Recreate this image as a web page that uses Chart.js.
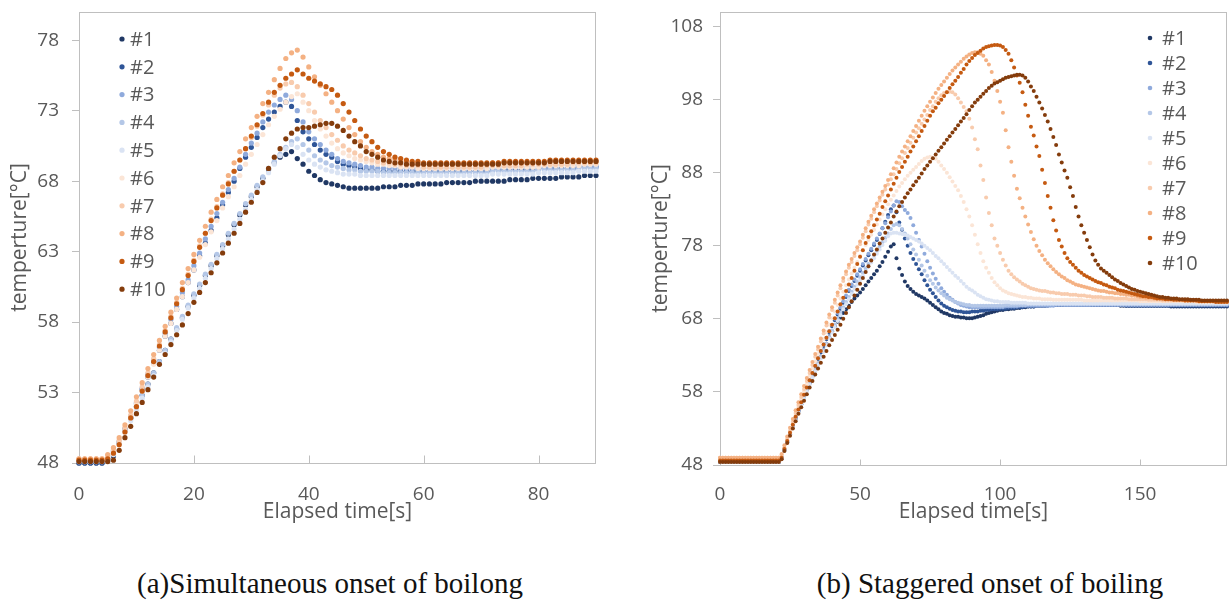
<!DOCTYPE html>
<html><head><meta charset="utf-8">
<script src="https://cdn.jsdelivr.net/npm/chart.js@4.4.0/dist/chart.umd.min.js"></script>
<style>
html,body{margin:0;padding:0;background:#fff;width:1229px;height:606px;overflow:hidden;position:relative}
.box{position:absolute}
.cap{position:absolute;font-family:"Liberation Serif",serif;font-size:29px;line-height:29px;color:#111;white-space:nowrap;transform:translateX(-50%)}
</style></head><body>
<div class="box" style="left:0;top:0;width:610px;height:540px"><canvas id="cA" width="610" height="540"></canvas></div>
<div class="box" style="left:620px;top:0;width:609px;height:540px"><canvas id="cB" width="609" height="540"></canvas></div>
<div class="cap" style="left:330px;top:569px">(a)Simultaneous onset of boilong</div>
<div class="cap" style="left:990px;top:569px">(b) Staggered onset of boiling</div>
<script>
// ---------- shared ----------
const seriesLabels = ['#1','#2','#3','#4','#5','#6','#7','#8','#9','#10'];
const seriesColors = ['#203864','#2F5597','#8FAADC','#B4C7E7','#DAE3F3','#FBE5D6','#F8CBAD','#F4B183','#C55A11','#843C0C'];

// ---------- (a) simultaneous onset: sampled every 1 s, 0..90 s ----------
const stepA = 1;
const xTicksA = [0,20,40,60,80];
const yTicksA = [48,53,58,63,68,73,78];
const a1 = [48.0,48.0,48.0,48.0,48.0,48.2,48.5,49.5,50.4,51.2,
52.0,52.8,53.6,54.4,55.2,56.0,56.8,57.5,58.3,59.1,
59.9,60.6,61.3,62.0,62.7,63.4,64.2,64.9,65.6,66.3,
66.9,67.6,68.2,68.8,69.3,69.7,69.9,70.1,69.6,69.2,
68.7,68.4,68.1,67.9,67.8,67.7,67.6,67.5,67.5,67.5,
67.5,67.5,67.5,67.6,67.6,67.6,67.7,67.7,67.7,67.8,
67.8,67.8,67.8,67.8,67.9,67.9,67.9,67.9,67.9,68.0,
68.0,68.0,68.0,68.0,68.0,68.1,68.1,68.1,68.1,68.2,
68.2,68.2,68.2,68.2,68.3,68.3,68.3,68.3,68.4,68.4,
68.4];
const a2 = [48.0,48.0,48.0,48.0,48.0,48.3,48.8,49.4,50.3,51.2,
52.2,53.2,54.1,55.1,56.0,57.0,57.9,58.9,59.8,60.8,
61.7,62.7,63.6,64.5,65.4,66.3,67.2,68.0,68.9,69.7,
70.4,71.1,71.8,72.4,72.9,73.3,73.6,73.3,72.3,71.5,
71.0,70.6,70.2,69.9,69.7,69.4,69.2,69.1,69.0,68.9,
68.8,68.8,68.7,68.7,68.7,68.7,68.7,68.7,68.7,68.7,
68.7,68.7,68.7,68.7,68.7,68.7,68.7,68.7,68.7,68.7,
68.7,68.7,68.8,68.8,68.8,68.8,68.8,68.8,68.8,68.8,
68.9,68.9,68.9,68.9,68.9,68.9,68.9,69.0,69.0,69.0,
69.0];
const a3 = [48.1,48.1,48.1,48.1,48.1,48.3,48.9,49.5,50.4,51.3,
52.3,53.3,54.3,55.3,56.2,57.2,58.2,59.1,60.1,61.0,
62.0,62.9,63.9,64.8,65.7,66.5,67.4,68.2,69.0,69.9,
70.7,71.4,72.2,72.9,73.4,73.8,74.1,73.8,73.0,72.2,
71.5,71.0,70.6,70.2,69.9,69.6,69.4,69.3,69.2,69.1,
69.0,69.0,68.9,68.9,68.9,68.9,68.9,68.9,68.9,68.9,
68.9,68.9,68.9,68.9,68.9,68.9,68.9,68.9,68.9,68.9,
68.9,68.9,68.9,68.9,69.0,69.0,69.0,69.0,69.0,69.0,
69.0,69.0,69.0,69.1,69.1,69.1,69.1,69.1,69.1,69.1,
69.1];
const a4 = [48.1,48.1,48.1,48.1,48.1,48.2,48.6,49.5,50.4,51.2,
52.0,52.8,53.6,54.4,55.2,56.0,56.8,57.6,58.4,59.2,
60.0,60.7,61.4,62.1,62.8,63.5,64.3,65.0,65.7,66.4,
67.0,67.7,68.3,68.9,69.4,69.9,70.4,70.8,71.0,70.6,
70.2,69.8,69.5,69.3,69.1,69.0,68.9,68.8,68.8,68.7,
68.7,68.7,68.7,68.6,68.6,68.6,68.6,68.6,68.6,68.6,
68.6,68.6,68.6,68.6,68.6,68.6,68.6,68.6,68.6,68.6,
68.6,68.6,68.7,68.7,68.7,68.7,68.7,68.7,68.7,68.7,
68.8,68.8,68.8,68.8,68.8,68.8,68.8,68.9,68.9,68.9,
68.9];
const a5 = [48.1,48.1,48.1,48.1,48.1,48.2,48.6,49.4,50.2,51.0,
51.8,52.6,53.4,54.2,55.0,55.8,56.6,57.4,58.2,59.0,
59.7,60.4,61.1,61.8,62.5,63.2,63.9,64.6,65.3,66.0,
66.7,67.4,68.0,68.6,69.2,69.8,70.3,70.6,70.4,69.9,
69.5,69.2,69.0,68.8,68.7,68.6,68.5,68.5,68.5,68.4,
68.4,68.4,68.4,68.4,68.4,68.4,68.4,68.4,68.4,68.4,
68.4,68.4,68.4,68.4,68.4,68.4,68.4,68.4,68.4,68.4,
68.4,68.4,68.5,68.5,68.5,68.5,68.5,68.5,68.5,68.5,
68.6,68.6,68.6,68.6,68.6,68.6,68.6,68.7,68.7,68.7,
68.7];
const a6 = [48.3,48.3,48.3,48.3,48.3,48.4,48.9,49.5,50.3,51.2,
52.2,53.1,54.1,55.0,56.0,57.0,57.9,58.9,59.8,60.8,
61.7,62.6,63.5,64.4,65.2,66.1,66.9,67.6,68.4,69.2,
69.9,70.6,71.3,72.0,72.6,73.1,73.6,74.0,74.2,73.6,
73.0,72.3,71.7,71.2,70.7,70.3,70.0,69.8,69.6,69.5,
69.4,69.3,69.2,69.2,69.1,69.1,69.0,69.0,69.0,68.9,
68.9,68.9,68.9,68.9,68.9,68.9,68.9,68.9,68.9,68.9,
68.9,68.9,69.0,69.0,69.0,69.0,69.0,69.0,69.0,69.0,
69.0,69.1,69.1,69.1,69.1,69.1,69.1,69.1,69.2,69.2,
69.2];
const a7 = [48.3,48.3,48.3,48.3,48.3,48.5,49.0,49.6,50.5,51.4,
52.4,53.4,54.4,55.4,56.4,57.4,58.4,59.4,60.4,61.4,
62.4,63.4,64.3,65.3,66.2,67.1,67.9,68.7,69.5,70.3,
71.1,71.9,72.7,73.4,74.1,74.6,74.9,75.0,74.7,74.1,
73.5,72.9,72.3,71.8,71.3,70.9,70.5,70.2,70.0,69.8,
69.6,69.5,69.4,69.3,69.3,69.2,69.2,69.1,69.1,69.1,
69.0,69.0,69.0,69.0,69.0,69.0,69.0,69.0,69.0,69.0,
69.0,69.1,69.1,69.1,69.1,69.1,69.1,69.1,69.2,69.2,
69.2,69.2,69.2,69.2,69.2,69.2,69.3,69.3,69.3,69.3,
69.3];
const a8 = [48.3,48.3,48.3,48.3,48.3,48.6,49.1,49.8,50.7,51.7,
52.7,53.7,54.7,55.7,56.7,57.7,58.7,59.7,60.8,61.8,
62.8,63.8,64.8,65.8,66.7,67.6,68.4,69.3,70.1,71.0,
71.8,72.6,73.5,74.3,75.2,76.0,76.7,77.1,77.3,76.8,
76.1,75.4,74.8,74.2,73.6,73.0,72.4,71.8,71.3,70.8,
70.4,70.1,69.9,69.7,69.6,69.5,69.4,69.4,69.3,69.3,
69.2,69.2,69.2,69.2,69.2,69.2,69.2,69.2,69.2,69.2,
69.2,69.2,69.3,69.3,69.3,69.3,69.3,69.3,69.3,69.3,
69.3,69.3,69.4,69.4,69.4,69.4,69.4,69.4,69.4,69.4,
69.4];
const a9 = [48.2,48.2,48.2,48.2,48.2,48.3,48.7,49.3,50.2,51.2,
52.0,53.1,54.2,55.2,56.3,57.3,58.3,59.3,60.3,61.3,
62.3,63.3,64.3,65.2,66.1,67.0,67.8,68.7,69.5,70.3,
71.2,72.0,72.8,73.6,74.3,74.8,75.3,75.6,75.9,75.6,
75.3,75.1,74.9,74.7,74.5,74.1,73.5,72.9,72.3,71.7,
71.2,70.8,70.4,70.1,69.9,69.7,69.6,69.5,69.4,69.4,
69.3,69.3,69.3,69.3,69.3,69.3,69.3,69.3,69.3,69.3,
69.3,69.3,69.3,69.3,69.4,69.4,69.4,69.4,69.4,69.4,
69.4,69.4,69.5,69.5,69.5,69.5,69.5,69.5,69.5,69.5,
69.5];
const a10 = [48.1,48.1,48.1,48.1,48.1,48.1,48.2,48.9,49.8,50.6,
51.5,52.3,53.2,54.1,55.0,55.7,56.4,57.1,57.8,58.6,
59.4,60.1,60.8,61.5,62.2,62.9,63.6,64.3,65.0,65.8,
66.5,67.2,67.9,68.9,69.7,70.3,71.0,71.4,71.7,71.8,
71.8,71.9,72.0,72.1,72.1,71.9,71.6,71.2,70.8,70.5,
70.1,69.9,69.7,69.5,69.4,69.3,69.3,69.2,69.2,69.2,
69.2,69.2,69.2,69.2,69.2,69.2,69.2,69.2,69.2,69.2,
69.2,69.2,69.2,69.2,69.3,69.3,69.3,69.3,69.3,69.3,
69.3,69.3,69.4,69.4,69.4,69.4,69.4,69.4,69.4,69.4,
69.4];

// ---------- (b) staggered onset: sampled every 1 s, 0..181 s ----------
const stepB = 1;
const xTicksB = [0,50,100,150];
const yTicksB = [48,58,68,78,88,98,108];
const b1 = [48.4,48.4,48.4,48.4,48.4,48.4,48.4,48.4,48.4,48.4,
48.4,48.4,48.4,48.4,48.4,48.4,48.4,48.4,48.4,48.4,
48.4,48.4,48.9,50.0,51.1,52.2,53.2,54.3,55.3,56.3,
57.3,58.3,59.2,60.1,61.0,61.9,62.8,63.7,64.6,65.5,
66.3,67.0,67.6,68.2,68.8,69.3,69.8,70.3,70.8,71.2,
71.6,72.1,72.6,73.1,73.6,74.1,74.6,75.2,75.8,76.5,
77.2,77.9,78.2,76.3,74.9,74.0,73.1,72.5,72.1,71.7,
71.4,71.2,71.0,70.8,70.5,70.2,69.9,69.6,69.3,69.0,
68.8,68.7,68.5,68.4,68.3,68.3,68.2,68.2,68.1,68.1,
68.1,68.2,68.3,68.4,68.5,68.7,68.8,68.9,69.0,69.1,
69.2,69.2,69.3,69.3,69.4,69.4,69.5,69.5,69.6,69.6,
69.7,69.7,69.7,69.8,69.8,69.8,69.8,69.9,69.9,69.9,
69.9,69.9,69.9,70.0,70.0,70.0,70.0,70.0,70.0,70.0,
70.0,70.0,70.0,69.9,69.9,69.9,69.9,69.9,69.9,69.9,
69.9,69.9,69.9,69.8,69.8,69.8,69.8,69.8,69.8,69.8,
69.8,69.8,69.8,69.8,69.8,69.8,69.8,69.8,69.8,69.8,
69.8,69.7,69.7,69.7,69.7,69.7,69.7,69.7,69.7,69.7,
69.7,69.7,69.7,69.7,69.7,69.7,69.7,69.7,69.7,69.7,
69.7,69.7];
const b2 = [48.4,48.4,48.4,48.4,48.4,48.4,48.4,48.4,48.4,48.4,
48.4,48.4,48.4,48.4,48.4,48.4,48.4,48.4,48.4,48.4,
48.4,48.4,49.1,50.2,51.3,52.4,53.5,54.5,55.5,56.5,
57.5,58.5,59.5,60.5,61.5,62.5,63.4,64.3,65.2,66.1,
67.0,67.8,68.6,69.4,70.2,71.0,71.8,72.5,73.2,73.9,
74.6,75.3,76.0,76.7,77.4,78.1,78.8,79.6,80.4,81.3,
82.2,83.0,83.5,82.6,81.2,80.2,79.0,78.0,77.0,76.2,
75.5,74.8,74.1,73.3,72.6,72.0,71.5,71.0,70.5,70.1,
69.8,69.6,69.4,69.2,69.1,69.0,69.0,68.9,68.9,68.9,
69.0,69.0,69.0,69.1,69.1,69.2,69.2,69.3,69.3,69.3,
69.4,69.4,69.4,69.5,69.5,69.5,69.6,69.6,69.6,69.7,
69.7,69.7,69.7,69.8,69.8,69.8,69.8,69.8,69.9,69.9,
69.9,69.9,69.9,69.9,69.9,69.9,69.9,69.9,69.9,69.9,
69.9,69.9,69.9,69.9,69.9,69.9,69.9,69.9,69.9,69.9,
69.9,69.9,69.9,69.9,69.9,69.8,69.8,69.8,69.8,69.8,
69.8,69.8,69.8,69.8,69.8,69.8,69.8,69.8,69.8,69.8,
69.8,69.8,69.8,69.8,69.8,69.8,69.8,69.8,69.8,69.8,
69.8,69.8,69.8,69.8,69.8,69.8,69.8,69.8,69.8,69.8,
69.8,69.8];
const b3 = [48.4,48.4,48.4,48.4,48.4,48.4,48.4,48.4,48.4,48.4,
48.4,48.4,48.4,48.4,48.4,48.4,48.4,48.4,48.4,48.4,
48.4,48.4,49.1,50.2,51.3,52.4,53.5,54.5,55.5,56.5,
57.6,58.6,59.6,60.6,61.6,62.6,63.6,64.5,65.4,66.3,
67.2,68.0,68.8,69.6,70.4,71.2,72.0,72.7,73.4,74.1,
74.8,75.5,76.2,76.9,77.6,78.3,79.0,79.7,80.4,81.1,
81.9,82.7,83.5,84.1,84.0,83.4,82.9,82.5,81.8,80.8,
79.8,78.8,77.9,76.9,75.9,75.0,74.2,73.5,72.8,72.2,
71.7,71.3,70.9,70.6,70.3,70.1,69.9,69.8,69.7,69.6,
69.6,69.6,69.6,69.6,69.6,69.6,69.6,69.6,69.6,69.6,
69.6,69.6,69.7,69.7,69.7,69.7,69.7,69.8,69.8,69.8,
69.8,69.8,69.8,69.8,69.8,69.8,69.8,69.8,69.8,69.8,
69.9,69.9,69.9,69.9,69.9,69.9,69.9,69.9,69.9,69.9,
69.9,69.9,69.9,69.9,69.9,69.9,69.9,69.9,69.9,69.9,
69.9,69.9,69.9,69.9,69.9,69.9,69.9,69.9,69.9,69.9,
69.9,69.9,69.9,69.9,69.9,69.9,69.9,69.9,69.9,69.9,
69.9,69.9,69.9,69.9,69.9,69.9,69.9,69.9,69.9,69.9,
69.9,69.9,69.9,69.9,69.9,69.9,69.9,69.9,69.9,69.9,
69.9,69.9];
const b4 = [48.4,48.4,48.4,48.4,48.4,48.4,48.4,48.4,48.4,48.4,
48.4,48.4,48.4,48.4,48.4,48.4,48.4,48.4,48.4,48.4,
48.4,48.4,49.0,50.1,51.2,52.3,53.3,54.3,55.3,56.3,
57.3,58.3,59.2,60.1,61.0,61.9,62.8,63.7,64.6,65.5,
66.4,67.2,68.0,68.8,69.6,70.3,71.0,71.7,72.4,73.1,
73.7,74.3,74.9,75.5,76.1,76.7,77.3,77.9,78.5,79.1,
79.7,80.3,80.8,81.0,80.8,80.3,79.7,79.0,78.2,77.5,
76.8,76.1,75.3,74.6,73.9,73.3,72.8,72.3,71.9,71.5,
71.2,70.9,70.7,70.5,70.3,70.2,70.1,70.0,69.9,69.9,
69.8,69.8,69.8,69.8,69.8,69.8,69.8,69.8,69.8,69.8,
69.8,69.8,69.9,69.9,69.9,69.9,69.9,69.9,69.9,69.9,
70.0,70.0,70.0,70.0,70.0,70.0,70.0,70.0,70.0,70.0,
70.0,70.0,70.0,70.0,70.0,70.0,70.0,70.0,70.0,70.0,
70.0,70.0,70.0,70.0,70.0,70.0,70.0,70.0,70.0,70.0,
70.0,70.0,70.0,70.0,70.0,70.0,70.0,70.0,70.0,70.0,
70.0,70.0,70.0,70.0,70.0,70.0,70.0,70.0,70.0,70.0,
70.0,70.0,70.0,70.0,70.0,70.0,70.0,70.0,70.0,70.0,
70.0,70.0,70.0,70.0,70.0,70.0,70.0,70.0,70.0,70.0,
70.0,70.0];
const b5 = [48.4,48.4,48.4,48.4,48.4,48.4,48.4,48.4,48.4,48.4,
48.4,48.4,48.4,48.4,48.4,48.4,48.4,48.4,48.4,48.4,
48.4,48.4,49.0,50.0,51.1,52.1,53.1,54.1,55.1,56.1,
57.1,58.1,59.0,59.9,60.8,61.7,62.6,63.5,64.4,65.3,
66.1,66.9,67.7,68.5,69.3,70.0,70.7,71.4,72.1,72.7,
73.3,73.9,74.5,75.1,75.7,76.3,76.9,77.5,78.1,78.7,
79.3,79.7,79.8,79.8,79.7,79.6,79.5,79.4,79.2,79.0,
78.8,78.6,78.3,78.0,77.7,77.4,77.0,76.6,76.3,75.9,
75.5,75.1,74.7,74.3,73.9,73.6,73.2,72.8,72.4,72.1,
71.9,71.6,71.3,71.1,70.9,70.7,70.6,70.5,70.4,70.4,
70.3,70.3,70.3,70.3,70.2,70.2,70.2,70.2,70.2,70.2,
70.1,70.1,70.1,70.1,70.1,70.1,70.1,70.1,70.1,70.1,
70.1,70.1,70.1,70.1,70.1,70.1,70.1,70.1,70.1,70.1,
70.1,70.1,70.1,70.1,70.1,70.1,70.1,70.1,70.1,70.1,
70.1,70.1,70.1,70.1,70.1,70.1,70.1,70.1,70.1,70.1,
70.1,70.1,70.1,70.1,70.1,70.1,70.1,70.1,70.1,70.1,
70.1,70.1,70.1,70.1,70.1,70.1,70.1,70.1,70.1,70.1,
70.1,70.1,70.1,70.1,70.1,70.1,70.1,70.1,70.1,70.1,
70.1,70.1];
const b6 = [49.0,49.0,49.0,49.0,49.0,49.0,49.0,49.0,49.0,49.0,
49.0,49.0,49.0,49.0,49.0,49.0,49.0,49.0,49.0,49.0,
49.0,49.0,49.3,50.3,51.4,52.5,53.7,54.8,55.9,57.0,
58.1,59.1,60.2,61.2,62.2,63.2,64.2,65.2,66.2,67.2,
68.1,69.0,69.9,70.8,71.7,72.6,73.4,74.2,75.0,75.8,
76.6,77.4,78.1,78.8,79.5,80.2,80.9,81.6,82.3,83.0,
83.7,84.3,84.9,85.5,86.1,86.6,87.1,87.6,88.0,88.4,
88.8,89.2,89.6,89.9,90.1,90.2,90.1,89.9,89.5,89.0,
88.5,88.0,87.4,86.8,86.2,85.6,84.8,84.0,83.0,82.0,
80.8,79.5,78.2,77.0,75.9,75.0,74.3,73.6,73.0,72.6,
72.2,71.9,71.7,71.5,71.4,71.3,71.2,71.1,71.0,71.0,
70.9,70.9,70.8,70.8,70.8,70.7,70.7,70.7,70.7,70.6,
70.6,70.6,70.6,70.6,70.6,70.6,70.6,70.6,70.6,70.6,
70.5,70.5,70.5,70.5,70.5,70.5,70.5,70.5,70.5,70.5,
70.5,70.5,70.5,70.5,70.5,70.5,70.5,70.5,70.5,70.5,
70.4,70.4,70.4,70.4,70.4,70.4,70.4,70.4,70.4,70.4,
70.4,70.4,70.4,70.4,70.4,70.4,70.4,70.4,70.4,70.4,
70.3,70.3,70.3,70.3,70.3,70.3,70.3,70.3,70.3,70.3,
70.3,70.3];
const b7 = [49.0,49.0,49.0,49.0,49.0,49.0,49.0,49.0,49.0,49.0,
49.0,49.0,49.0,49.0,49.0,49.0,49.0,49.0,49.0,49.0,
49.0,49.0,49.4,50.4,51.6,52.7,53.9,55.1,56.2,57.3,
58.4,59.5,60.6,61.7,62.8,63.8,64.9,66.0,67.1,68.2,
69.2,70.2,71.2,72.2,73.2,74.1,75.0,75.8,76.6,77.4,
78.2,79.1,80.0,80.9,81.7,82.6,83.4,84.2,85.0,85.7,
86.4,87.1,87.8,88.5,89.3,90.0,90.7,91.4,92.1,92.8,
93.5,94.1,94.7,95.3,95.9,96.6,97.1,97.7,98.2,98.6,
98.9,99.1,99.1,99.0,98.7,98.2,97.6,97.0,96.4,95.4,
94.2,92.6,91.2,89.0,87.0,84.6,82.5,80.8,79.0,78.0,
77.0,76.1,75.3,74.6,74.1,73.7,73.4,73.1,72.8,72.6,
72.4,72.2,72.1,72.0,71.9,71.8,71.8,71.7,71.6,71.6,
71.5,71.5,71.4,71.4,71.4,71.3,71.3,71.3,71.2,71.2,
71.2,71.1,71.1,71.0,71.0,71.0,71.0,70.9,70.9,70.9,
70.9,70.8,70.8,70.8,70.8,70.8,70.7,70.7,70.7,70.7,
70.7,70.7,70.7,70.6,70.6,70.6,70.6,70.6,70.5,70.5,
70.5,70.5,70.5,70.5,70.5,70.5,70.5,70.5,70.5,70.5,
70.4,70.4,70.4,70.4,70.4,70.4,70.4,70.4,70.4,70.4,
70.4,70.4];
const b8 = [49.0,49.0,49.0,49.0,49.0,49.0,49.0,49.0,49.0,49.0,
49.0,49.0,49.0,49.0,49.0,49.0,49.0,49.0,49.0,49.0,
49.0,49.0,49.5,50.7,51.9,53.1,54.3,55.5,56.6,57.7,
58.8,59.9,61.0,62.1,63.2,64.2,65.3,66.4,67.5,68.6,
69.6,70.6,71.6,72.6,73.6,74.5,75.4,76.2,77.0,77.8,
78.6,79.5,80.4,81.3,82.1,83.0,83.8,84.6,85.4,86.2,
87.0,87.8,88.6,89.4,90.2,90.9,91.6,92.3,93.0,93.7,
94.4,95.1,95.8,96.5,97.1,97.7,98.3,98.9,99.5,100.0,
100.5,101.0,101.5,102.0,102.4,102.8,103.2,103.6,103.9,104.2,
104.4,104.5,104.5,104.3,104.0,103.4,102.8,101.8,100.6,99.2,
97.7,96.2,93.8,91.5,89.5,87.6,85.8,84.5,83.2,82.0,
80.9,79.9,78.9,78.0,77.3,76.7,76.1,75.6,75.2,74.8,
74.4,74.1,73.8,73.6,73.3,73.1,72.9,72.7,72.6,72.5,
72.4,72.3,72.2,72.1,72.0,71.9,71.8,71.8,71.7,71.6,
71.6,71.5,71.5,71.4,71.4,71.3,71.3,71.2,71.2,71.1,
71.0,71.0,70.9,70.9,70.9,70.8,70.8,70.8,70.7,70.7,
70.7,70.7,70.6,70.6,70.6,70.6,70.5,70.5,70.5,70.5,
70.5,70.4,70.4,70.4,70.4,70.4,70.4,70.4,70.4,70.4,
70.4,70.4];
const b9 = [48.6,48.6,48.6,48.6,48.6,48.6,48.6,48.6,48.6,48.6,
48.6,48.6,48.6,48.6,48.6,48.6,48.6,48.6,48.6,48.6,
48.6,48.6,49.0,50.2,51.3,52.4,53.5,54.6,55.6,56.6,
57.6,58.6,59.6,60.6,61.6,62.6,63.6,64.5,65.4,66.3,
67.2,68.1,69.0,70.0,70.9,71.8,72.7,73.6,74.6,75.5,
76.5,77.4,78.4,79.2,80.0,80.8,81.6,82.4,83.3,84.1,
84.9,85.7,86.5,87.3,88.1,88.8,89.5,90.2,90.9,91.6,
92.3,93.0,93.7,94.4,95.1,95.8,96.4,96.9,97.5,98.0,
98.5,99.0,99.6,100.1,100.6,101.1,101.7,102.2,102.8,103.3,
103.7,104.1,104.4,104.7,105.0,105.2,105.3,105.4,105.5,105.5,
105.4,105.2,104.8,104.3,103.4,102.4,101.3,100.3,99.0,97.3,
95.8,94.3,93.1,91.6,90.3,88.4,86.6,84.8,83.2,81.5,
80.1,78.8,77.9,77.0,76.3,75.8,75.4,75.0,74.6,74.3,
74.0,73.8,73.6,73.4,73.2,73.0,72.9,72.7,72.6,72.4,
72.3,72.2,72.0,71.9,71.8,71.7,71.6,71.5,71.4,71.3,
71.2,71.1,71.1,71.0,71.0,70.9,70.8,70.8,70.8,70.7,
70.7,70.7,70.6,70.6,70.6,70.6,70.5,70.5,70.5,70.5,
70.5,70.4,70.4,70.4,70.4,70.4,70.4,70.3,70.3,70.3,
70.3,70.3];
const b10 = [48.4,48.4,48.4,48.4,48.4,48.4,48.4,48.4,48.4,48.4,
48.4,48.4,48.4,48.4,48.4,48.4,48.4,48.4,48.4,48.4,
48.4,48.4,48.8,49.9,51.0,52.0,53.0,54.0,55.0,55.9,
56.8,57.7,58.6,59.5,60.4,61.2,62.0,62.8,63.6,64.4,
65.1,65.8,66.5,67.2,68.0,68.8,69.6,70.4,71.2,72.0,
72.8,73.6,74.4,75.2,76.0,76.8,77.5,78.3,79.0,79.8,
80.5,81.2,82.0,82.7,83.4,84.0,84.6,85.2,85.7,86.3,
86.8,87.3,87.9,88.5,89.0,89.5,90.0,90.5,91.0,91.5,
92.0,92.5,93.0,93.5,94.0,94.5,95.0,95.5,96.0,96.6,
97.1,97.6,98.0,98.4,98.8,99.2,99.6,99.9,100.2,100.4,
100.6,100.8,101.0,101.1,101.2,101.3,101.4,101.4,101.3,101.0,
100.5,99.8,99.2,98.4,97.6,96.8,95.9,95.0,94.0,92.9,
91.8,90.5,89.4,88.3,87.3,86.0,84.8,83.3,82.0,80.8,
79.8,78.8,77.8,76.8,76.0,75.4,74.9,74.6,74.3,74.0,
73.7,73.4,73.2,72.9,72.7,72.5,72.3,72.1,72.0,71.8,
71.7,71.6,71.5,71.4,71.3,71.2,71.1,71.0,71.0,70.9,
70.9,70.8,70.8,70.8,70.7,70.7,70.7,70.7,70.6,70.6,
70.6,70.6,70.5,70.5,70.5,70.5,70.5,70.5,70.5,70.5,
70.5,70.5];

const seriesA = [a1,a2,a3,a4,a5,a6,a7,a8,a9,a10];
const seriesB = [b1,b2,b3,b4,b5,b6,b7,b8,b9,b10];

// ---------- plugins ----------
const framePlugin = {
  id: 'frame',
  beforeDatasetsDraw(chart, args, o) {
    const {ctx, chartArea: a, scales: {x}} = chart;
    ctx.save();
    ctx.strokeStyle = o.color;
    ctx.lineWidth = 1;
    const L = Math.round(a.left) + 0.5, T = Math.round(a.top) + 0.5;
    const R = Math.round(a.right) - 0.5, B = Math.round(a.bottom) + 0.5;
    ctx.strokeRect(L, T, R - L, B - T);
    ctx.beginPath();
    x.ticks.forEach(t => {
      if (t.value === x.min) return;
      const px = Math.round(x.getPixelForValue(t.value)) + 0.5;
      ctx.moveTo(px, B); ctx.lineTo(px, B - o.tick);
    });
    ctx.stroke();
    ctx.restore();
  }
};
const legendPlugin = {
  id: 'insideLegend',
  afterDatasetsDraw(chart, args, o) {
    const {ctx, chartArea: a} = chart;
    ctx.save();
    ctx.font = o.size + 'px ' + o.family;
    ctx.textBaseline = 'middle';
    ctx.textAlign = 'left';
    chart.data.datasets.forEach((ds, i) => {
      const x = a.left + o.x, y = a.top + o.y + i * o.dy;
      ctx.fillStyle = ds.backgroundColor;
      ctx.beginPath(); ctx.arc(x, y, o.r, 0, Math.PI * 2); ctx.fill();
      ctx.fillStyle = o.color;
      ctx.fillText(ds.label, x + o.tx, y + 1);
    });
    ctx.restore();
  }
};

const FONT = '"Open Sans", "Noto Sans", sans-serif';
const GRAY = '#595959';

function buildDatasets(series, step, radius) {
  return series.map((vals, i) => ({
    label: seriesLabels[i],
    data: vals.map((v, k) => ({x: k * step, y: v})),
    backgroundColor: seriesColors[i],
    borderWidth: 0,
    pointRadius: radius,
    pointHoverRadius: radius,
    order: series.length - i,
    clip: false
  }));
}

function makeChart(id, cfg) {
  return new Chart(document.getElementById(id), {
    type: 'scatter',
    data: {datasets: buildDatasets(cfg.series, cfg.step, cfg.radius)},
    options: {
      responsive: false, animation: false, events: [], devicePixelRatio: 1,
      layout: {padding: {left: 0, right: cfg.padRight, top: 12, bottom: 0}},
      plugins: {
        legend: {display: false}, tooltip: {enabled: false},
        frame: {color: '#BFBFBF', tick: cfg.xTickLen},
        insideLegend: Object.assign({family: FONT, size: 20, color: GRAY}, cfg.legend)
      },
      scales: {
        x: {
          type: 'linear', min: cfg.xMin, max: cfg.xMax,
          afterBuildTicks: s => { s.ticks = cfg.xTicks.map(v => ({value: v})); },
          afterFit: s => { s.height = cfg.xAxisH; s.paddingLeft = 0; s.paddingRight = 0; },
          grid: {display: false, drawTicks: false},
          border: {display: false},
          ticks: {color: GRAY, font: {family: FONT, size: 19}, padding: cfg.xTickPad, maxRotation: 0, autoSkip: false},
          title: {display: true, text: 'Elapsed time[s]', color: GRAY, font: {family: FONT, size: 21}, padding: {top: 0, bottom: 15}}
        },
        y: {
          type: 'linear', min: cfg.yMin, max: cfg.yMax,
          afterBuildTicks: s => { s.ticks = cfg.yTicks.map(v => ({value: v})); },
          afterFit: s => { s.width = cfg.yAxisW; s.paddingTop = 0; s.paddingBottom = 0; },
          grid: {display: true, drawOnChartArea: false, drawTicks: true, tickLength: 7, color: '#BFBFBF'},
          border: {display: false},
          ticks: {color: GRAY, font: {family: FONT, size: 19}, padding: cfg.yTickPad, autoSkip: false},
          title: {display: true, text: 'temperture[°C]', color: GRAY, font: {family: FONT, size: 21}, padding: {top: cfg.yTitlePad, bottom: 0}}
        }
      }
    },
    plugins: [framePlugin, legendPlugin]
  });
}

makeChart('cA', {
  series: seriesA, step: stepA, radius: 2.6,
  xMin: 0, xMax: 90, yMin: 48, yMax: 80, xTicks: xTicksA, yTicks: yTicksA,
  padRight: 14, xAxisH: 77, yAxisW: 79, xTickPad: 20, yTickPad: 13, yTitlePad: 7, xTickLen: 8,
  legend: {x: 43, y: 27, dy: 27.8, tx: 8, r: 2.6}
});
makeChart('cB', {
  series: seriesB, step: stepB, radius: 2.0,
  xMin: 0, xMax: 181, yMin: 48, yMax: 110, xTicks: xTicksB, yTicks: yTicksB,
  padRight: 1, xAxisH: 75, yAxisW: 100, xTickPad: 18, yTickPad: 10, yTitlePad: 28, xTickLen: 6,
  legend: {x: 430, y: 26, dy: 25, tx: 12, r: 2.3}
});
</script>
</body></html>
